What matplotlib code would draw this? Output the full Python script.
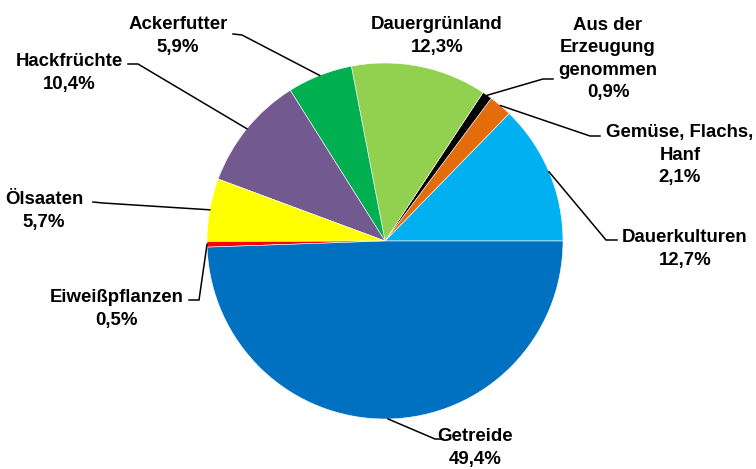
import matplotlib

matplotlib.use("Agg")

import matplotlib.pyplot as plt
import numpy as np

# data, counter-clockwise from 3 o'clock
categories = [
    "Dauerkulturen",
    "Gemüse, Flachs,\nHanf",
    "Aus der\nErzeugung\ngenommen",
    "Dauergrünland",
    "Ackerfutter",
    "Hackfrüchte",
    "Ölsaaten",
    "Eiweißpflanzen",
    "Getreide",
]
shares = [12.7, 2.1, 0.9, 12.3, 5.9, 10.4, 5.7, 0.5, 49.4]
colors = ["#00B0F0", "#E46C0A", "#000000", "#92D050", "#00B050",
          "#72598F", "#FFFF00", "#FF0000", "#0070C0"]

# label layout in pixels (top-down): text centre, elbow, line end
label_pos = [(685, 249), (680, 155), (608, 59), (437, 36), (178, 36),
             (69, 73), (44, 211), (117, 309), (475, 448)]
elbows = [(606, 240), (590, 136), (543, 79), None, (242, 35),
          (138, 64), (103, 203), (199, 300), (435, 439)]
line_ends = [(617, 240), (600, 136), (553, 79), None, (233, 34),
             (128, 64), (93, 202), (189, 300), (443, 439)]

W, H = 756, 469
CX, CY, R = 385, 241, 178

plt.rcParams["font.family"] = ["Liberation Sans", "DejaVu Sans"]

fig = plt.figure(figsize=(W / 100, H / 100), dpi=100)
ax = fig.add_axes([0, 0, 1, 1])

ax.pie(shares, colors=colors, startangle=0, counterclock=True,
       center=(CX, H - CY), radius=R, frame=True,
       wedgeprops=dict(linewidth=0.4, edgecolor="white"))
ax.set_xlim(0, W)
ax.set_ylim(0, H)
ax.set_aspect("equal")
ax.axis("off")

total = sum(shares)
cum = np.cumsum([0] + shares)
for i, (cat, val) in enumerate(zip(categories, shares)):
    mid = np.deg2rad((cum[i] + val / 2) / total * 360)
    ex, ey = CX + R * np.cos(mid), H - CY + R * np.sin(mid)
    if elbows[i] is not None:
        bx, by = elbows[i]
        lx, ly = line_ends[i]
        ax.plot([ex, bx, lx], [ey, H - by, H - ly], color="black", lw=1.1,
                solid_joinstyle="miter")
    tx, ty = label_pos[i]
    txt = f"{cat}\n{val:.1f}%".replace(".", ",")
    ax.text(tx, H - ty, txt, ha="center", va="center", fontsize=13.4,
            fontweight="bold", linespacing=1.42)

fig.savefig("out.png", dpi=100)
